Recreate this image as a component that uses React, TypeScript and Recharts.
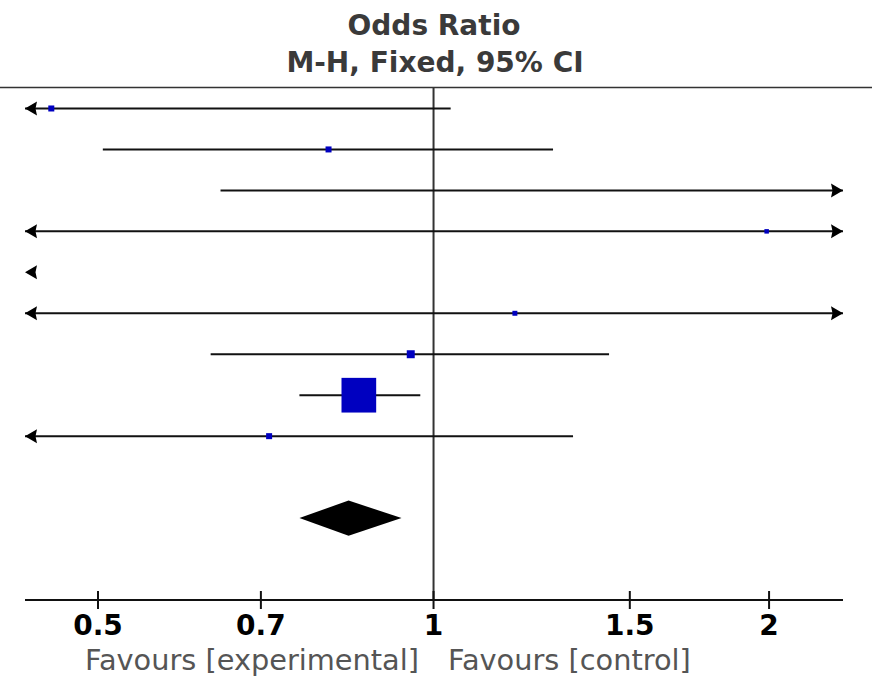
import React from "react";
import {
  ScatterChart,
  Scatter,
  XAxis,
  YAxis,
  ReferenceLine,
  ReferenceArea,
} from "recharts";

// study rows, top to bottom
const studyRows = [1, 2, 3, 4, 5, 6, 7, 8, 9];
const oddsRatios = [0.454, 0.805, 3.5, 1.99, 0.12, 1.183, 0.954, 0.857, 0.712];
const lowerCI = [0.2, 0.505, 0.644, 0.1, 0.02, 0.06, 0.631, 0.758, 0.37];
const upperCI = [1.036, 1.28, 19, 40, 0.41, 23, 1.437, 0.973, 1.334];
const weights = [2.5, 2.5, 1.0, 1.1, 1.0, 1.7, 4.4, 83.3, 2.5];

// pooled estimate (diamond)
const pooledRow = 11;
const pooledOR = 0.839;
const pooledLower = 0.758;
const pooledUpper = 0.936;

const xTicks = [0.5, 0.7, 1, 1.5, 2];
const xDomain: [number, number] = [0.43, 2.33];

const LINE = "#111";
const BLUE = "#0000c0";
const TEXT_FONT = "'DejaVu Sans', sans-serif";

const clamp = (v: number) => Math.min(Math.max(v, xDomain[0]), xDomain[1]);

const segments = studyRows.map((row, i) => ({
  row,
  lo: clamp(lowerCI[i]),
  hi: clamp(upperCI[i]),
}));

const arrowData: { x: number; y: number; dir: number }[] = [];
studyRows.forEach((row, i) => {
  if (lowerCI[i] < xDomain[0]) arrowData.push({ x: xDomain[0], y: row, dir: -1 });
  if (upperCI[i] > xDomain[1]) arrowData.push({ x: xDomain[1], y: row, dir: 1 });
});

const pointData = studyRows
  .map((row, i) => ({ x: oddsRatios[i], y: row, w: weights[i] }))
  .filter((p) => p.x >= xDomain[0] && p.x <= xDomain[1]);

const ArrowShape = (props: any) => {
  const { cx, cy, payload } = props;
  const d = payload.dir;
  const len = 12;
  const half = 7;
  return (
    <polygon
      points={`${cx},${cy} ${cx - d * len},${cy - half} ${cx - d * (len - 1.5)},${cy} ${cx - d * len},${cy + half}`}
      fill="#000"
    />
  );
};

const SquareShape = (props: any) => {
  const { cx, cy, payload } = props;
  const side = Math.max(3.8 * Math.sqrt(payload.w), 4.5);
  return <rect x={cx - side / 2} y={cy - side / 2} width={side} height={side} fill={BLUE} />;
};

const DiamondShape = (props: any) => {
  const { x, y, width, height } = props;
  // centre of the diamond sits at the pooled OR on the log axis
  const frac =
    (Math.log(pooledOR) - Math.log(pooledLower)) /
    (Math.log(pooledUpper) - Math.log(pooledLower));
  const cx = x + frac * width;
  const cy = y + height / 2;
  return (
    <polygon
      points={`${x},${cy} ${cx},${y} ${x + width},${cy} ${cx},${y + height}`}
      fill="#000"
    />
  );
};

const AxisTick = (props: any) => {
  const { x, y, payload } = props;
  return (
    <g>
      <line x1={x} x2={x} y1={y - 9} y2={y + 9} stroke={LINE} strokeWidth={2} />
      <text
        x={x}
        y={y + 35}
        textAnchor="middle"
        fontFamily={TEXT_FONT}
        fontWeight="bold"
        fontSize={28}
        fill="#000"
      >
        {payload.value}
      </text>
    </g>
  );
};

const App = () => {
  return (
    <div
      style={{
        position: "absolute",
        left: 0,
        top: 0,
        width: 872,
        height: 677,
        background: "#fff",
      }}
    >
      <svg width={872} height={677} style={{ position: "absolute", left: 0, top: 0 }}>
        <text x={434} y={35} textAnchor="middle" fontFamily={TEXT_FONT} fontWeight="bold" fontSize={28} fill="#3a3a3a">
          Odds Ratio
        </text>
        <text x={435} y={72} textAnchor="middle" fontFamily={TEXT_FONT} fontWeight="bold" fontSize={28} fill="#3a3a3a">
          M-H, Fixed, 95% CI
        </text>
        <line x1={0} x2={872} y1={87.5} y2={87.5} stroke="#333" strokeWidth={1.5} />
        <text x={419} y={670} textAnchor="end" fontFamily={TEXT_FONT} fontSize={28.8} fill="#555">
          Favours [experimental]
        </text>
        <text x={448} y={670} textAnchor="start" fontFamily={TEXT_FONT} fontSize={28.8} fill="#555">
          Favours [control]
        </text>
      </svg>
      <div style={{ position: "absolute", left: 0, top: 0 }}>
        <ScatterChart
          width={872}
          height={677}
          margin={{ top: 88, right: 29, bottom: 37, left: 25 }}
        >
          <XAxis
            type="number"
            dataKey="x"
            scale="log"
            domain={xDomain}
            allowDataOverflow
            ticks={xTicks}
            interval={0}
            height={40}
            tickSize={0}
            tickMargin={0}
            tickLine={false}
            axisLine={{ stroke: LINE, strokeWidth: 2 }}
            tick={AxisTick}
          />
          <YAxis type="number" dataKey="y" domain={[0.5, 13]} reversed hide width={0} allowDataOverflow />
          <ReferenceLine x={1} stroke="#333" strokeWidth={2} ifOverflow="visible" />
          {segments.map((s) => (
            <ReferenceLine
              key={s.row}
              segment={[
                { x: s.lo, y: s.row },
                { x: s.hi, y: s.row },
              ]}
              stroke={LINE}
              strokeWidth={2}
              ifOverflow="visible"
            />
          ))}
          <Scatter data={arrowData} shape={ArrowShape} isAnimationActive={false} />
          <Scatter data={pointData} shape={SquareShape} isAnimationActive={false} />
          <ReferenceArea
            x1={pooledLower}
            x2={pooledUpper}
            y1={pooledRow - 0.43}
            y2={pooledRow + 0.43}
            shape={DiamondShape}
            ifOverflow="visible"
          />
        </ScatterChart>
      </div>
    </div>
  );
};

export default App;
